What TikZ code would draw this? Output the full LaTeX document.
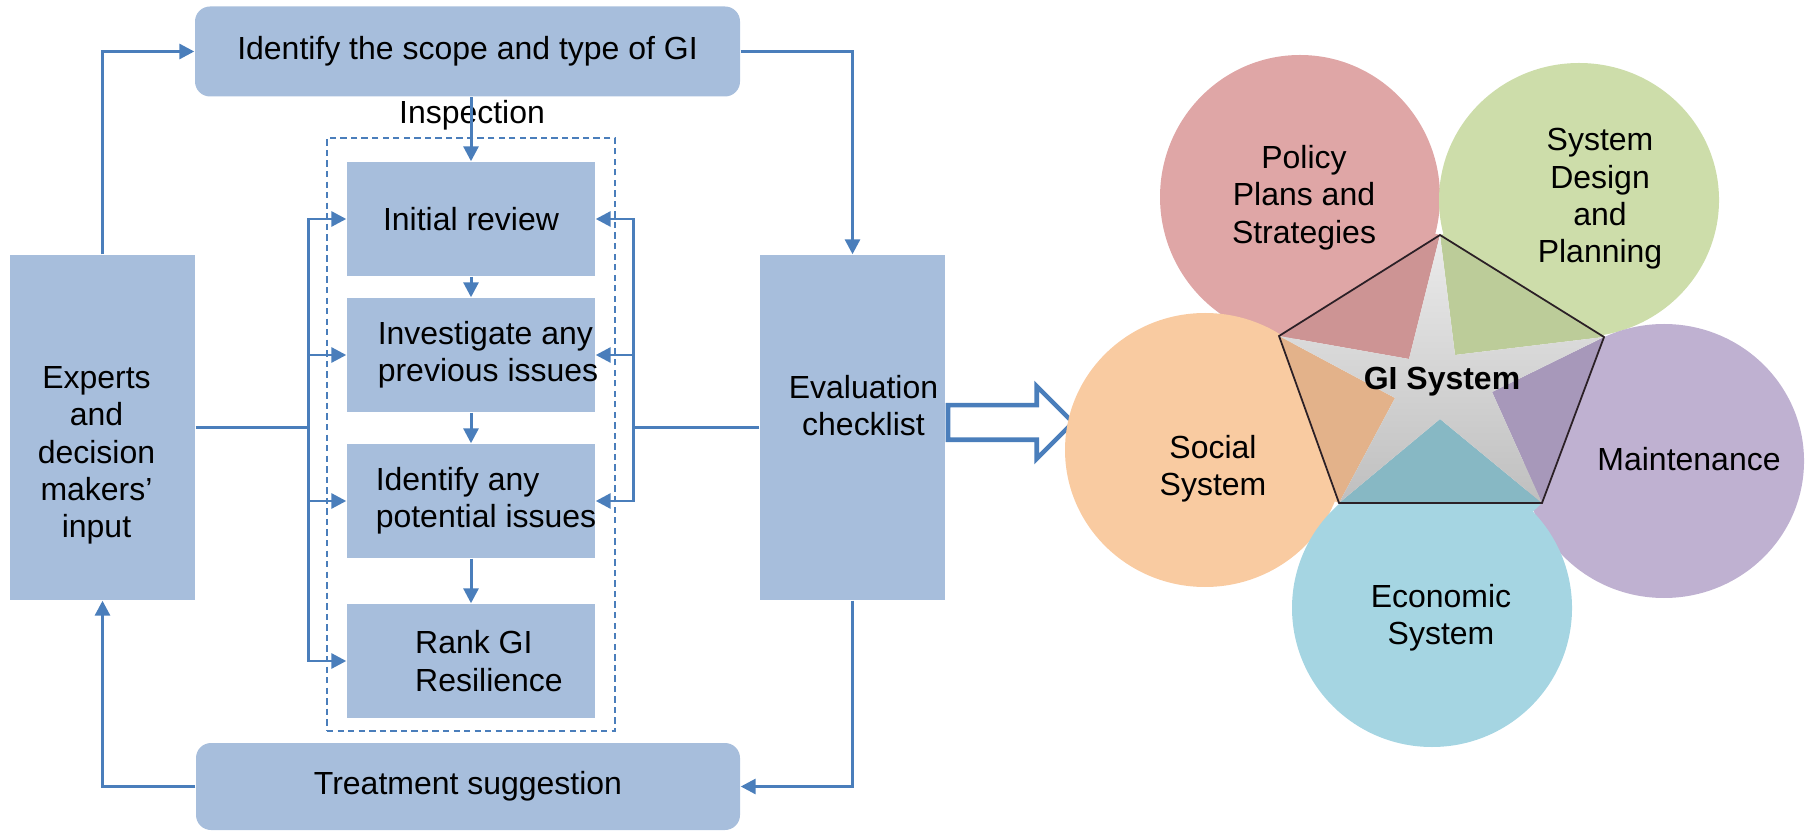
\documentclass[tikz,border=0pt]{standalone}
\usepackage{fontspec}
\setmainfont{Liberation Sans}
\usepackage{tikz}
\usetikzlibrary{arrows.meta,positioning,calc,shapes.arrows}
\definecolor{Ink}{HTML}{000000}
\definecolor{Flow}{HTML}{4A7EBB}
\definecolor{Box}{HTML}{A7BEDC}
\definecolor{Rose}{HTML}{DFA6A6}
\definecolor{RoseDark}{HTML}{CD9494}
\definecolor{Sage}{HTML}{CDDDAA}
\definecolor{SageDark}{HTML}{BCCC99}
\definecolor{Lilac}{HTML}{BFB1D1}
\definecolor{LilacDark}{HTML}{A798BA}
\definecolor{Sand}{HTML}{F9CBA1}
\definecolor{SandDark}{HTML}{E3B28A}
\definecolor{Aqua}{HTML}{A5D5E2}
\definecolor{AquaDark}{HTML}{87B8C4}
\definecolor{StarTop}{HTML}{EBEBEB}
\definecolor{StarBot}{HTML}{BFBFBF}
\definecolor{Edge}{HTML}{2B2026}

\begin{document}
\begin{tikzpicture}[
  font=\fontsize{9.1}{10.6}\selectfont,
  every node/.style={text=Ink},
  bar/.style={fill=Box,rounded corners=1.5mm,minimum width=5.45cm,
    minimum height=0.9cm,inner sep=0pt},
  stepbox/.style={fill=Box,minimum width=2.48cm,minimum height=1.14cm,
    inner sep=0pt},
  sidebox/.style={fill=Box,minimum width=1.85cm,minimum height=3.45cm,
    inner sep=0pt},
  frame/.style={draw=Flow,dash pattern=on 1.8pt off 1.2pt,line width=0.5pt,
    minimum width=2.88cm,minimum height=5.93cm,inner sep=0pt},
  flow/.style={draw=Flow,line width=0.85pt,
    -{Triangle[length=1.5mm,width=1.5mm]}},
  wire/.style={draw=Flow,line width=0.85pt},
  petal/.style={align=center}]
  \useasboundingbox (0,0) rectangle (18.14,-8.32);

  \node[bar] (scope) at (4.675,-0.515) {Identify the scope and type of GI};
  \node[frame] (inspect) at (4.71,-4.345) {};
  \node (inspLabel) at (4.72,-1.15) {Inspection};
  \node[stepbox] (initial) at (4.71,-2.19) {Initial review};
  \node[stepbox,label={[xshift=1.7mm,align=left]center:{Investigate any\\previous issues}}]
    (invest) at (4.71,-3.55) {};
  \node[stepbox,label={[xshift=1.5mm,align=left]center:{Identify any\\potential issues}}]
    (ident) at (4.71,-5.01) {};
  \node[stepbox,label={[xshift=1.8mm,align=left]center:{Rank GI\\Resilience}}]
    (rank) at (4.71,-6.61) {};
  \node[sidebox,label={[xshift=-0.6mm,yshift=-2.8mm,align=center]center:{Experts\\and\\decision\\makers’\\input}}]
    (expert) at (1.025,-4.275) {};
  \node[sidebox,label={[xshift=1.1mm,yshift=2.2mm,align=center]center:{Evaluation\\checklist}}]
    (eval) at (8.525,-4.275) {};
  \node[bar,minimum width=5.44cm,minimum height=0.87cm] (treat) at (4.68,-7.865)
    {Treatment suggestion};

  \draw[flow] (expert.north) |- (scope.west);
  \draw[flow] (scope.east) -| (eval.north);
  \draw[flow] (initial.north |- scope.south) -- (initial.north);
  \foreach \a/\b in {initial/invest,invest/ident,ident/rank}
    \draw[flow] (\a) -- (\b);
  \coordinate (lbus) at (3.08,-4.275);
  \coordinate (rbus) at (6.33,-4.275);
  \draw[wire] (expert.east) -- (lbus);
  \foreach \s in {initial,invest,ident,rank}
    \draw[flow] (lbus) |- (\s.west);
  \draw[wire] (eval.west) -- (rbus);
  \foreach \s in {initial,invest,ident}
    \draw[flow] (rbus) |- (\s.east);
  \draw[flow] (eval.south) |- (treat.east);
  \draw[flow] (treat.west) -| (expert.south);

  \node[single arrow,draw=Flow,fill=white,line width=1.3pt,inner xsep=0pt,
    inner ysep=0.15cm,minimum height=1.25cm,single arrow head extend=0.19cm,
    anchor=tail] (toGI) at ([yshift=0.05cm]eval.east) {};

  \coordinate (t1) at (14.40,-2.35);
  \coordinate (t2) at (12.79,-3.36);
  \coordinate (t3) at (13.39,-5.03);
  \coordinate (t4) at (15.42,-5.03);
  \coordinate (t5) at (16.04,-3.37);
  \coordinate (i1) at (14.09,-3.59);
  \coordinate (i2) at (13.95,-3.98);
  \coordinate (i3) at (14.40,-4.19);
  \coordinate (i4) at (14.92,-3.92);
  \coordinate (i5) at (14.55,-3.55);

  \foreach \col/\px/\py/\ry/\p/\q in {Rose/13.00/-1.97/1.42/1/2,Sage/15.79/-2.00/1.37/5/1,
      Sand/12.05/-4.50/1.37/2/3,Lilac/16.64/-4.61/1.37/4/5,Aqua/14.32/-6.08/1.39/3/4}{
    \fill[fill=\col] (\px,\py) ellipse [x radius=1.40,y radius=\ry];
    \fill[fill=\col] (\px,\py) -- (t\p) -- (t\q) -- cycle;
  }
  \foreach \col/\p/\k/\q in {Rose/1/1/2,Sand/2/2/3,Aqua/3/3/4,Lilac/4/4/5,Sage/5/5/1}
    \fill[fill=\col Dark] (t\p) -- (i\k) -- (t\q) -- cycle;
  \shade[top color=StarTop,bottom color=StarBot]
    (t1) -- (i1) -- (t2) -- (i2) -- (t3) -- (i3) -- (t4) -- (i4) -- (t5) -- (i5) -- cycle;
  \draw[draw=Edge,line width=0.5pt] (t1) -- (t2) -- (t3) -- (t4) -- (t5) -- cycle;

  \node[petal] (policy) at (13.04,-1.975) {Policy\\Plans and\\Strategies};
  \node[petal] (design) at (16.00,-1.99) {System\\Design\\and\\Planning};
  \node[petal] (social) at (12.13,-4.69) {Social\\System};
  \node[petal] (maint) at (16.89,-4.59) {Maintenance};
  \node[petal] (econ) at (14.41,-6.18) {Economic\\System};
  \node[font=\fontsize{9.1}{10.6}\selectfont\bfseries] (gisys) at (14.42,-3.82) {GI System};
\end{tikzpicture}
\end{document}
